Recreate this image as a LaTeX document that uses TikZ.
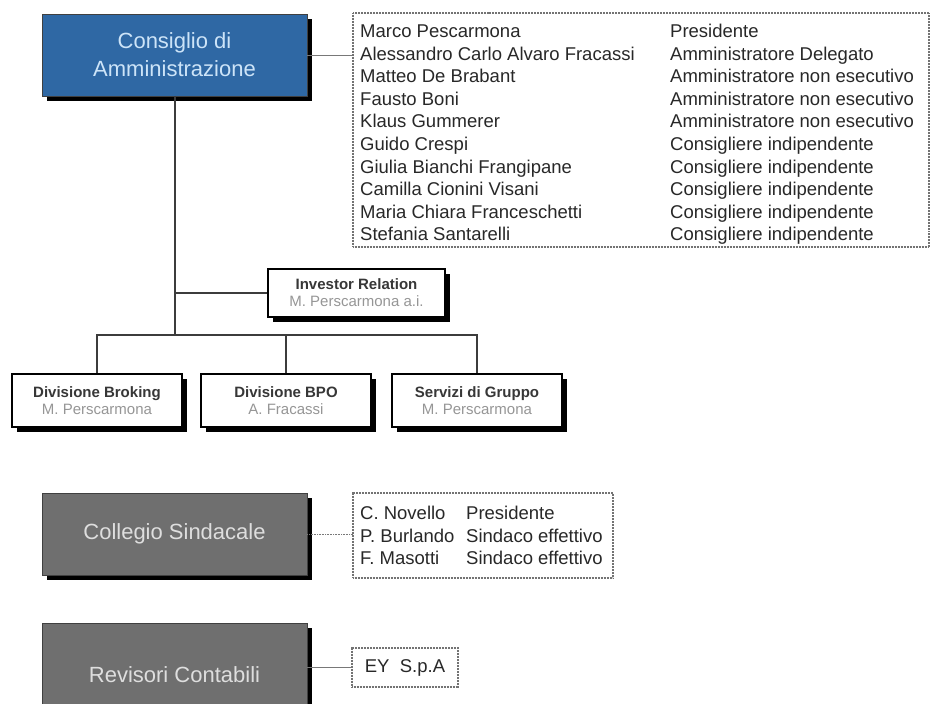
\documentclass[tikz,border=0pt]{standalone}
\usepackage{fontspec}
\setmainfont{Liberation Sans}
\usetikzlibrary{shadows}
\definecolor{cdablue}{RGB}{47,104,164}
\definecolor{cdatext}{RGB}{205,228,248}
\definecolor{boxgray}{RGB}{111,111,111}
\definecolor{boxtext}{RGB}{222,222,222}
\definecolor{listtext}{RGB}{40,40,40}
\definecolor{subtext}{RGB}{150,150,150}
\definecolor{titletext}{RGB}{55,55,55}
\definecolor{linecol}{RGB}{60,60,60}
\definecolor{conncol}{RGB}{120,120,120}
\begin{document}
\begin{tikzpicture}[x=1pt,y=-1pt,
  shadowed/.style={drop shadow={shadow xshift=5pt,shadow yshift=-5pt,fill=black,opacity=1}},
  bigbox/.style={shadowed, draw=black!75, line width=0.8pt, minimum width=265pt, minimum height=82pt,
    inner sep=0pt, align=center, font=\fontsize{22}{28}\selectfont},
  unitbox/.style={shadowed, draw=black, fill=white, line width=1.1pt, minimum width=170pt, minimum height=53pt,
    inner sep=0pt, align=center, text=titletext, font=\fontsize{15}{17}\selectfont},
  listbox/.style={draw=black!55, line width=1.3pt, dash pattern=on 1pt off 0.5pt, inner sep=0pt},
  listitem/.style={anchor=base west, inner sep=0pt, text=listtext, font=\fontsize{18.5}{22}\selectfont},
  tree/.style={draw=linecol, line width=1.2pt},
  conn/.style={draw=conncol, line width=1pt},
  dotconn/.style={draw=conncol, line width=1pt, dash pattern=on 1pt off 0.6pt}
]
\useasboundingbox (0,0) rectangle (930,704);
\fill[white] (0,0) rectangle (930,704);
\clip (0,0) rectangle (930,704);

% Consiglio di Amministrazione
\node[bigbox, fill=cdablue, text=cdatext] (cda) at (174.5,55) {Consiglio di\\Amministrazione};

% members box
\node[listbox, minimum width=576pt, minimum height=234pt] (members) at (641,130) {};
\foreach \n/\r [count=\i from 0] in {
  Marco Pescarmona/Presidente,
  Alessandro Carlo Alvaro Fracassi/Amministratore Delegato,
  Matteo De Brabant/Amministratore non esecutivo,
  Fausto Boni/Amministratore non esecutivo,
  Klaus Gummerer/Amministratore non esecutivo,
  Guido Crespi/Consigliere indipendente,
  Giulia Bianchi Frangipane/Consigliere indipendente,
  Camilla Cionini Visani/Consigliere indipendente,
  Maria Chiara Franceschetti/Consigliere indipendente,
  Stefania Santarelli/Consigliere indipendente}{
  \node[listitem] (mn\i) at (360,{37.5+22.6*\i}) {\n};
  \node[listitem] (mr\i) at (670,{37.5+22.6*\i}) {\r};
}
\draw[conn] (cda.east) -- (members.west |- cda.east);

% Investor relation and divisions
\node[unitbox, minimum width=177pt, minimum height=48pt] (ir) at (356.5,293)
  {\textbf{Investor Relation}\\{\color{subtext}M. Perscarmona a.i.}};
\node[unitbox] (dbrk) at (97,400.5) {\textbf{Divisione Broking}\\{\color{subtext}M. Perscarmona}};
\node[unitbox] (dbpo) at (286,400.5) {\textbf{Divisione BPO}\\{\color{subtext}A. Fracassi}};
\node[unitbox] (sdg) at (477,400.5) {\textbf{Servizi di Gruppo}\\{\color{subtext}M. Perscarmona}};

\coordinate (trunk) at (175,335);
\draw[tree] (cda.south -| trunk) -- (trunk);
\draw[tree] (ir.west) -- (trunk |- ir.west);
\draw[tree] (dbrk.north) -- (dbrk.north |- trunk) -- (sdg.north |- trunk) -- (sdg.north);
\draw[tree] (dbpo.north) -- (dbpo.north |- trunk);

% Collegio Sindacale
\node[bigbox, fill=boxgray, text=boxtext] (cs) at (174.5,534) {Collegio Sindacale};
\node[listbox, minimum width=260pt, minimum height=85pt] (csm) at (483,535.5) {};
\foreach \n/\r [count=\i from 0] in {C. Novello/Presidente, P. Burlando/Sindaco effettivo, F. Masotti/Sindaco effettivo}{
  \node[listitem] (cn\i) at (360,{519.5+22.5*\i}) {\n};
  \node[listitem] (cr\i) at (466,{519.5+22.5*\i}) {\r};
}
\draw[dotconn] (cs.east) -- (csm.west |- cs.east);

% Revisori Contabili
\node[bigbox, fill=boxgray, text=boxtext, minimum height=104pt] (rc) at (174.5,675) {Revisori Contabili};
\node[listbox, minimum width=106pt, minimum height=39pt, text=listtext, font=\fontsize{18.5}{22}\selectfont] (ey) at (405,667.5) {EY~~S.p.A};
\draw[conn] (ey.west) -- (rc.east |- ey.west);
\end{tikzpicture}
\end{document}
